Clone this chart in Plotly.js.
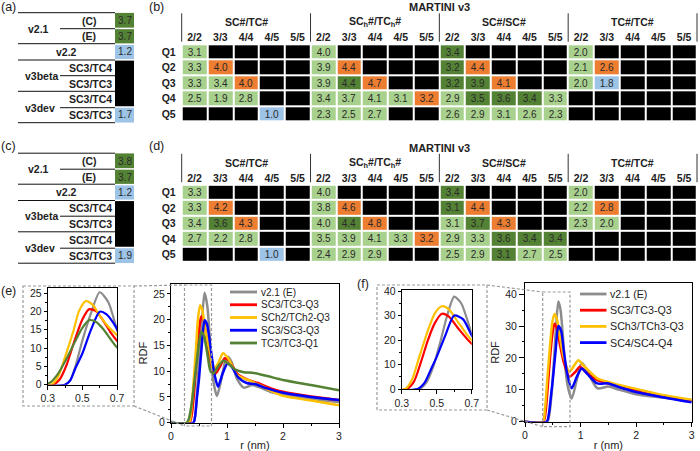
<!DOCTYPE html>
<html><head><meta charset="utf-8">
<script src="https://cdn.plot.ly/plotly-3.0.1.min.js"></script>
<style>html,body{margin:0;padding:0;background:#fff}#chart{width:700px;height:451px}</style>
</head><body><div id="chart"></div>
<script>
// ---------------- table data ----------------
const colLabels = ['2/2','3/3','4/4','4/5','5/5'];
const rowLabels = ['Q1','Q2','Q3','Q4','Q5'];
const groupLabels = ['SC#/TC#','SC<sub>h</sub>#/TC<sub>h</sub>#','SC#/SC#','TC#/TC#'];
const tableTitle = 'MARTINI v3';
// class codes: K = none (black), L = light green, D = dark green, O = orange, B = blue

// panel (b)
const bSCTC   = [[3.1,null,null,null,null],[3.3,4.0,null,null,null],[3.3,3.4,4.0,null,null],[2.5,1.9,2.8,null,null],[null,null,null,1.0,null]];
const bSChTCh = [[4.0,null,null,null,null],[3.9,4.4,null,null,null],[3.9,4.4,4.7,null,null],[3.4,3.7,4.1,3.1,3.2],[2.3,2.5,2.7,null,null]];
const bSCSC   = [[3.4,null,null,null,null],[3.2,4.4,null,null,null],[3.2,3.9,4.1,null,null],[2.9,3.5,3.6,3.4,3.3],[2.6,2.9,3.1,2.6,2.3]];
const bTCTC   = [[2.0,null,null,null,null],[2.1,2.6,null,null,null],[2.0,1.8,null,null,null],[null,null,null,null,null],[null,null,null,null,null]];
const bSCTCc   = ['LKKKK','LOKKK','LLOKK','LLLKK','KKKBK'];
const bSChTChc = ['LKKKK','LOKKK','LDOKK','LLLLO','LLLKK'];
const bSCSCc   = ['DKKKK','DOKKK','DDOKK','LDDDL','LLLLL'];
const bTCTCc   = ['LKKKK','LOKKK','LBKKK','KKKKK','KKKKK'];

// panel (d)
const dSCTC   = [[3.3,null,null,null,null],[3.3,4.2,null,null,null],[3.4,3.6,4.3,null,null],[2.7,2.2,2.8,null,null],[null,null,null,1.0,null]];
const dSChTCh = [[4.0,null,null,null,null],[3.8,4.6,null,null,null],[4.0,4.4,4.8,null,null],[3.5,3.9,4.1,3.3,3.2],[2.4,2.9,2.9,null,null]];
const dSCSC   = [[3.4,null,null,null,null],[3.1,4.4,null,null,null],[3.1,3.7,4.3,null,null],[2.9,3.3,3.6,3.4,3.4],[2.5,2.9,3.1,2.7,2.5]];
const dTCTC   = [[2.0,null,null,null,null],[2.2,2.8,null,null,null],[2.3,2.0,null,null,null],[null,null,null,null,null],[null,null,null,null,null]];
const dSCTCc   = ['LKKKK','LOKKK','LDOKK','LLLKK','KKKBK'];
const dSChTChc = ['LKKKK','LOKKK','LDOKK','LLLLO','LLLKK'];
const dSCSCc   = ['DKKKK','DOKKK','LDOKK','LLDDD','LLDLL'];
const dTCTCc   = ['LKKKK','LOKKK','LLKKK','KKKKK','KKKKK'];

// panels (a) and (c)
const sideRowLabels = ['(C)','(E)','v2.2','SC3/TC4','SC3/TC3','SC3/TC4','SC3/TC3'];
const sideGroupLabels = ['v2.1','v3beta','v3dev'];
const aVals = [3.7,3.7,1.2,null,null,null,1.7];
const aCls  = 'DDBKKKB';
const cVals = [3.8,3.7,1.2,null,null,null,1.9];
const cCls  = 'DDBKKKB';

// ---------------- RDF data ----------------
const eNames = ['v2.1 (E)','SC3/TC3-Q3','SCh2/TCh2-Q3','SC3/SC3-Q3','TC3/TC3-Q1'];
const eGrayR = [0,0.40,0.43,0.46,0.50,0.55,0.60,0.65,0.70,0.75,0.82,0.90,0.97,1.02,1.08,1.18,1.30,1.45,1.60,1.80,2.00,2.50,3.00];
const eGrayG = [0,0,1.2,5,12,19.5,25.2,22.5,15,8.5,5.2,8.5,12,12.8,11.8,8.5,6.8,7.3,6.8,5.9,5.5,4.6,4.0];
const eRedR  = [0,0.33,0.37,0.41,0.45,0.50,0.54,0.58,0.62,0.66,0.70,0.75,0.80,0.88,0.96,1.05,1.20,1.40,1.55,1.80,2.00,2.50,3.00];
const eRedG  = [0,0,1.5,5.5,11.3,17.8,20.6,20,17.5,14.5,12,9.8,9.6,11,12.5,11.8,9.3,8.2,7.7,6.6,6.0,5.1,4.4];
const eYelR  = [0,0.32,0.36,0.40,0.45,0.48,0.52,0.56,0.60,0.65,0.70,0.75,0.84,0.93,1.02,1.18,1.40,1.60,1.80,2.00,2.50,3.00];
const eYelG  = [0,0,2.2,7.5,14.9,20,22.8,21.8,18.8,15.8,13.5,10.2,11.5,13.5,12.5,9.3,8.2,7.2,6.1,5.2,4.3,3.4];
const eBluR  = [0,0.40,0.43,0.46,0.50,0.55,0.60,0.64,0.68,0.72,0.78,0.84,0.92,1.01,1.08,1.20,1.35,1.50,1.70,2.00,2.50,3.00];
const eBluG  = [0,0,1.2,4.5,8.5,15,19.9,19.2,16.8,13.5,9.2,7,9.5,11.5,10.9,8.8,7.7,7.5,6.7,5.8,5.0,4.4];
const eGrnR  = [0,0.28,0.32,0.36,0.40,0.45,0.50,0.54,0.58,0.62,0.66,0.70,0.75,0.84,0.93,1.02,1.15,1.30,1.45,1.70,2.00,2.50,3.00];
const eGrnG  = [0,0,0.8,3,6.3,11,15.5,17.6,17.1,15.2,12.6,10.2,9.5,10.9,12,11.5,10.3,9.8,9.7,9.1,8.3,7.3,6.3];

const fNames = ['v2.1 (E)','SC3/TC3-Q3','SCh3/TCh3-Q3','SC4/SC4-Q4'];
const fGrayR = [0,0.40,0.44,0.48,0.52,0.56,0.60,0.64,0.70,0.76,0.84,0.93,1.02,1.12,1.30,1.50,1.70,2.00,2.50,3.00];
const fGrayG = [0,0,2.5,9,19,30,37.7,35,22.6,12,7.3,13,18.5,16,10.5,11,10,8.6,7.5,6.5];
const fRedR  = [0,0.33,0.37,0.41,0.45,0.49,0.53,0.57,0.62,0.70,0.80,0.90,0.99,1.10,1.30,1.50,1.70,2.00,2.50,3.00];
const fRedG  = [0,0,3,11,20,27,30.7,29.5,25,18.5,14.1,15.5,17.2,15.5,13,12,11,9.8,8,6.6];
const fYelR  = [0,0.32,0.36,0.40,0.45,0.49,0.53,0.57,0.62,0.70,0.80,0.88,0.96,1.06,1.30,1.50,1.70,2.00,2.50,3.00];
const fYelG  = [0,0,4,13,23.9,31,33.8,32.5,27.5,19.9,15.7,17.5,19.3,17.5,13.6,12.5,11.5,10.3,8.3,6.9];
const fBluR  = [0,0.39,0.43,0.47,0.50,0.55,0.60,0.65,0.70,0.76,0.84,0.93,1.02,1.12,1.30,1.50,1.70,2.00,2.50,3.00];
const fBluG  = [0,0,2.5,8.5,13.1,22,30,28.5,21.9,15,10.5,14,16.7,15,12,12,10.8,9.3,7.6,6.1];

// ---------------- styling ----------------
const F = 'Arial, "Liberation Sans", sans-serif';
const COL = {K:'#000000', L:'#a9d18e', D:'#548235', O:'#ed7d31', B:'#9dc3e6'};
const CODE = {K:0, L:1, D:2, O:3, B:4};
const cscale = [[0,COL.K],[0.2,COL.K],[0.2,COL.L],[0.4,COL.L],[0.4,COL.D],[0.6,COL.D],[0.6,COL.O],[0.8,COL.O],[0.8,COL.B],[1,COL.B]];
const LC = {gray:'#8c8c8c', red:'#ff0000', yel:'#ffc000', blu:'#0000ff', grn:'#548235'};
const px = x => x/700, py = y => 1 - y/451;

function buildTable(groups, classes){
  const z=[], t=[];
  for(let r=0;r<5;r++){
    const zr=[], tr=[];
    for(let g=0;g<4;g++) for(let c=0;c<5;c++){
      const v=groups[g][r][c];
      zr.push(CODE[classes[g][r][c]]);
      tr.push(v==null?'':v.toFixed(1));
    }
    z.push(zr); t.push(tr);
  }
  return {z,t};
}
const idx20 = Array.from({length:20},(_,i)=>i);
const bT = buildTable([bSCTC,bSChTCh,bSCSC,bTCTC],[bSCTCc,bSChTChc,bSCSCc,bTCTCc]);
const dT = buildTable([dSCTC,dSChTCh,dSCSC,dTCTC],[dSCTCc,dSChTChc,dSCSCc,dTCTCc]);

function heat(T, xa, ya){
  return {type:'heatmap', z:T.z, text:T.t, x:idx20, y:[0,1,2,3,4], xaxis:xa, yaxis:ya,
    texttemplate:'%{text}', textfont:{family:F,size:10,color:'#2a2a2a'},
    colorscale:cscale, zmin:-0.5, zmax:4.5, showscale:false, xgap:2, ygap:2, hoverinfo:'skip'};
}
function sideHeat(vals, cls, xa, ya){
  return {type:'heatmap', z:vals.map((v,i)=>[CODE[cls[i]]]), text:vals.map(v=>[v==null?'':v.toFixed(1)]),
    x:[0], y:[0,1,2,3,4,5,6], xaxis:xa, yaxis:ya, texttemplate:'%{text}',
    textfont:{family:F,size:10,color:'#2a2a2a'}, colorscale:cscale, zmin:-0.5, zmax:4.5,
    showscale:false, xgap:0, ygap:0, hoverinfo:'skip'};
}
function line(x,y,color,xa,ya,w){
  return {type:'scatter', mode:'lines', x:x, y:y, xaxis:xa, yaxis:ya,
    line:{color:color, width:w, shape:'spline', smoothing:0.7}, hoverinfo:'skip', showlegend:false};
}

const eSeries = [[eGrayR,eGrayG,LC.gray],[eRedR,eRedG,LC.red],[eYelR,eYelG,LC.yel],[eBluR,eBluG,LC.blu],[eGrnR,eGrnG,LC.grn]];
const fSeries = [[fGrayR,fGrayG,LC.gray],[fRedR,fRedG,LC.red],[fYelR,fYelG,LC.yel],[fBluR,fBluG,LC.blu]];

const data = [
  heat(bT,'x','y'), heat(dT,'x2','y2'),
  sideHeat(aVals,aCls,'x3','y3'), sideHeat(cVals,cCls,'x4','y4')
];
eSeries.forEach(s=>data.push(line(s[0],s[1],s[2],'x5','y5',2.5)));
eSeries.forEach(s=>data.push(line(s[0],s[1],s[2],'x6','y6',2.2)));
fSeries.forEach(s=>data.push(line(s[0],s[1],s[2],'x7','y7',2.5)));
fSeries.forEach(s=>data.push(line(s[0],s[1],s[2],'x8','y8',2.2)));

// ---------------- layout ----------------
const bDomX = [px(181.7), px(697)];
const bDomY = [py(121.7), py(44.3)];
const dDomY = [py(262.2), py(184.8)];
const aDomX = [px(115), px(134)];
const aDomY = [py(122.7), py(12.7)];
const cDomY = [py(263.2), py(153.2)];

function tableX(dom, anchor){
  return {domain:dom, range:[-0.5,19.5], side:'top', anchor:anchor, tickmode:'array', tickvals:idx20,
    ticktext:idx20.map(i=>'<b>'+colLabels[i%5]+'</b>'), ticks:'', showgrid:false, zeroline:false,
    showline:false, tickfont:{family:F,size:10.5,color:'#222'}};
}
function tableY(dom, anchor){
  return {domain:dom, range:[4.5,-0.5], anchor:anchor, tickmode:'array', tickvals:[0,1,2,3,4],
    ticktext:rowLabels.map(s=>'<b>'+s+'</b>'), ticks:'', showgrid:false, zeroline:false, showline:false,
    ticklabelstandoff:5, tickfont:{family:F,size:10.5,color:'#222'}};
}
function hidden(dom, range, anchor){
  return {domain:dom, range:range, anchor:anchor, visible:false, showgrid:false, zeroline:false};
}
function rdfX(dom, range, anchor, tickvals, minorDt, title){
  const o = {domain:dom, range:range, anchor:anchor, tickmode:'array', tickvals:tickvals,
    ticks:'outside', ticklen:4, tickcolor:'#000', showline:true, linecolor:'#000', linewidth:1, mirror:true,
    showgrid:false, zeroline:false, tickfont:{family:F,size:10.5,color:'#222'},
    minor:{dtick:minorDt, tick0:0, ticks:'outside', ticklen:2, tickcolor:'#000'}};
  if(title) o.title = {text:title, standoff:3, font:{family:F,size:11,color:'#222'}};
  return o;
}
function rdfY(dom, range, anchor, dt, minorDt, title, tl){
  const o = {domain:dom, range:range, anchor:anchor, tickmode:'linear', tick0:0, dtick:dt,
    ticks:'outside', ticklen:tl, tickcolor:'#000', showline:true, linecolor:'#000', linewidth:1, mirror:true,
    showgrid:false, zeroline:false, tickfont:{family:F,size:10.5,color:'#222'},
    minor:{dtick:minorDt, tick0:0, ticks:'outside', ticklen:2, tickcolor:'#000'}};
  if(title) o.title = {text:title, standoff:3, font:{family:F,size:11,color:'#222'}};
  return o;
}

const annotations = [];
const shapes = [];
function ann(text,x,y,size,opts){
  annotations.push(Object.assign({text:text, x:x, y:y, xref:'paper', yref:'paper', showarrow:false,
    font:{family:F,size:size,color:'#222'}, xanchor:'center', yanchor:'middle'}, opts||{}));
}
function seg(x0,y0,x1,y1,color,w,dash){
  shapes.push({type:'line', xref:'paper', yref:'paper', x0:x0, y0:y0, x1:x1, y1:y1,
    line:{color:color, width:w, dash:dash||'solid'}});
}

// panel letters
ann('(a)', px(8.5), py(7), 12.5);
ann('(b)', px(156), py(7), 12.5);
ann('(c)', px(8.5), py(146), 12.5);
ann('(d)', px(156), py(146), 12.5);
ann('(e)', px(8.5), py(291), 12.5);
ann('(f)', px(363), py(284), 12.5);

// big tables: titles, group headers, separators
function tableDecor(off){
  ann('<b>'+tableTitle+'</b>', px(439), py(7+off), 11);
  const x0 = bDomX[0], w = (bDomX[1]-bDomX[0])/4;
  groupLabels.forEach((g,i)=> ann('<b>'+g+'</b>', x0 + w*(i+0.5), py(22+off), 10.5));
  for(let i=0;i<=4;i++) seg(x0+w*i, py(13.3+off), x0+w*i, py(41.7+off), '#333', 1);
}
tableDecor(0); tableDecor(140.5);

// side tables (a), (c)
function sideDecor(off, dom){
  const L = 18, S = 60, R = 115;
  const ys = [12.7,28.7,43.7,60,75.7,91.3,107.7,122.7].map(v=>v+off);
  [[0,L],[1,S],[2,L],[3,L],[4,S],[5,L],[6,S],[7,L]].forEach(p=> seg(px(p[1]), py(ys[p[0]]), px(R), py(ys[p[0]]), '#111', 1));
  const mid = k => (ys[k]+ys[k+1])/2;
  ann('<b>'+sideRowLabels[0]+'</b>', px(89), py(mid(0)), 10.5);
  ann('<b>'+sideRowLabels[1]+'</b>', px(89), py(mid(1)), 10.5);
  ann('<b>'+sideRowLabels[2]+'</b>', px(66), py(mid(2)), 10.5);
  for(let k=3;k<7;k++) ann('<b>'+sideRowLabels[k]+'</b>', px(113.5), py(mid(k)), 10.5, {xanchor:'right'});
  ann('<b>'+sideGroupLabels[0]+'</b>', px(38), py(ys[1]), 10.5);
  ann('<b>'+sideGroupLabels[1]+'</b>', px(41), py(ys[4]), 10.5);
  ann('<b>'+sideGroupLabels[2]+'</b>', px(40), py(ys[6]), 10.5);
  // white separators between coloured cells
  const h = (dom[1]-dom[0])/7;
  [1,2,3,6].forEach(k=> seg(aDomX[0], dom[1]-h*k, aDomX[1], dom[1]-h*k, '#fff', 1.5));
}
sideDecor(0, aDomY); sideDecor(140.5, cDomY);

// zoom boxes and connectors
const dashC = '#9a9a9a';
function rect(x0,y0,x1,y1){
  shapes.push({type:'rect', xref:'paper', yref:'paper', x0:px(x0), y0:py(y0), x1:px(x1), y1:py(y1),
    line:{color:dashC, width:1.2, dash:'3px,2px'}, fillcolor:'rgba(0,0,0,0)'});
}
rect(23,286,134,406); rect(184.5,285,211.5,426);
seg(px(134),py(286),px(184.5),py(285),dashC,1.2,'3px,2px');
seg(px(134),py(406),px(184.5),py(426),dashC,1.2,'3px,2px');
rect(377,285,487,410); rect(542.7,292,570,426.7);
seg(px(487),py(285),px(542.7),py(292),dashC,1.2,'3px,2px');
seg(px(487),py(410),px(542.7),py(426.7),dashC,1.2,'3px,2px');

// manual legends
function legend(names, series, x0, x1, xt, y0, step, size){
  names.forEach((n,i)=>{
    const y = y0 + step*i;
    seg(px(x0), py(y), px(x1), py(y), series[i][2], 2.8);
    ann(n, px(xt), py(y), size, {xanchor:'left'});
  });
}
legend(eNames, eSeries, 230, 257, 259, 292, 12.75, 10);
legend(fNames, fSeries, 580, 606.5, 608, 294, 16.2, 10.7);

const layout = {
  width:700, height:451, margin:{l:0,r:0,t:0,b:0}, paper_bgcolor:'#fff', plot_bgcolor:'#fff',
  showlegend:false, font:{family:F, size:10, color:'#222'},
  xaxis: tableX(bDomX,'y'), yaxis: tableY(bDomY,'x'),
  xaxis2: tableX(bDomX,'y2'), yaxis2: tableY(dDomY,'x2'),
  xaxis3: hidden(aDomX,[-0.5,0.5],'y3'), yaxis3: hidden(aDomY,[6.5,-0.5],'x3'),
  xaxis4: hidden(aDomX,[-0.5,0.5],'y4'), yaxis4: hidden(cDomY,[6.5,-0.5],'x4'),
  xaxis5: rdfX([px(171),px(339)],[0,3],'y5',[0,1,2,3],0.5,'r (nm)'),
  yaxis5: rdfY([py(422.7),py(283.6)],[0,27],'x5',5,2.5,'RDF',3),
  xaxis6: rdfX([px(47.7),px(117)],[0.3,0.7],'y6',[0.3,0.5,0.7],0.1,null),
  yaxis6: rdfY([py(384.7),py(287.5)],[0,26.5],'x6',5,2.5,null,3),
  xaxis7: rdfX([px(525),px(691.7)],[0,3],'y7',[0,1,2,3],0.5,'r (nm)'),
  yaxis7: rdfY([py(421.7),py(283.3)],[0,43.4],'x7',10,5,'RDF',5),
  xaxis8: rdfX([px(401.7),px(471.7)],[0.3,0.7],'y8',[0.3,0.5,0.7],0.1,null),
  yaxis8: rdfY([py(389),py(289.8)],[0,40.5],'x8',10,5,null,3),
  annotations: annotations, shapes: shapes
};
Plotly.newPlot('chart', data, layout, {staticPlot:true, displayModeBar:false});
</script></body></html>
